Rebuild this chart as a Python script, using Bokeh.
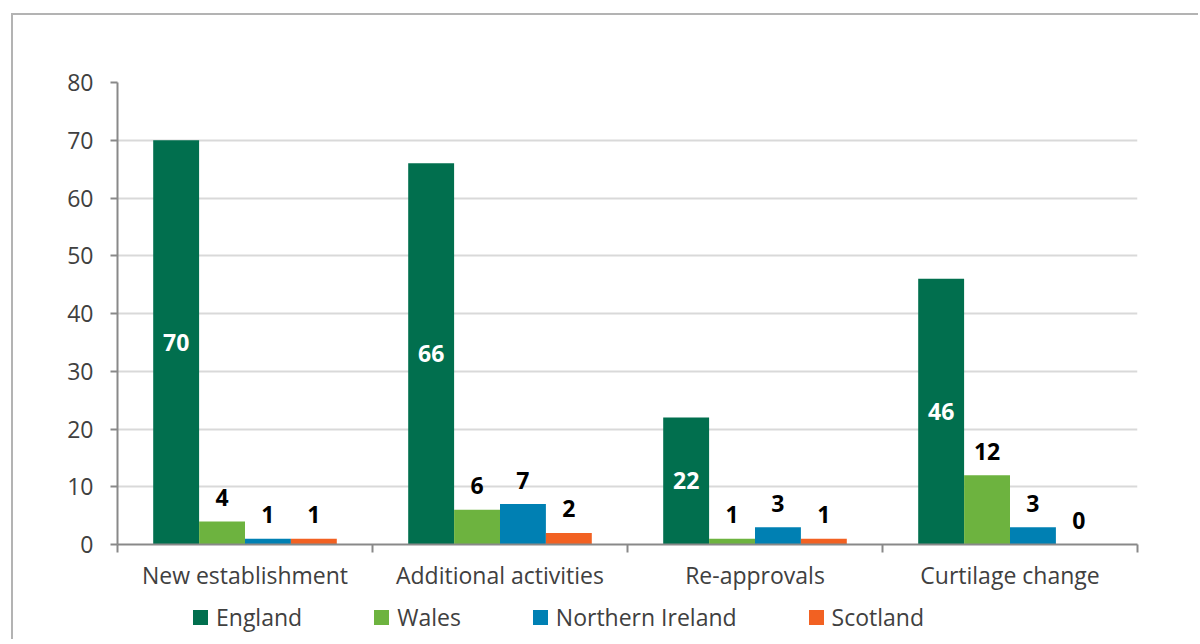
import numpy as np
from bokeh.plotting import figure
from bokeh.layouts import column
from bokeh.models import Range1d, FixedTicker, ColumnDataSource, Div
from bokeh.core.properties import value
from bokeh.embed import file_html
from bokeh.resources import INLINE

categories = ["New establishment", "Additional activities", "Re-approvals", "Curtilage change"]
series = ["England", "Wales", "Northern Ireland", "Scotland"]
england = [70, 66, 22, 46]
wales = [4, 6, 1, 12]
northern_ireland = [1, 7, 3, 3]
scotland = [1, 2, 1, 0]
colors = ["#016f4e", "#6db33f", "#0080b3", "#f26122"]
y_ticks = [0, 10, 20, 30, 40, 50, 60, 70, 80]

values = [england, wales, northern_ireland, scotland]
offsets = [-0.27, -0.09, 0.09, 0.27]
bar_w = 0.18
FONT = "Open Sans"
TXT = "#404040"
AX = "#898989"

p = figure(width=1185, height=584, output_backend="svg", toolbar_location=None,
           x_range=Range1d(0, len(categories)), y_range=Range1d(0, 80),
           min_border_left=104, min_border_right=61, min_border_top=67, min_border_bottom=55)
p.outline_line_color = None
p.background_fill_color = "white"
p.border_fill_color = "white"

centers = np.arange(len(categories)) + 0.5
for k, (name, vals, col, off) in enumerate(zip(series, values, colors, offsets)):
    src = ColumnDataSource(dict(x=centers + off, top=vals, txt=[str(v) for v in vals],
                                mid=[v / 2 for v in vals]))
    p.vbar(x="x", top="top", width=bar_w, source=src, fill_color=col, line_color=None)
    if k == 0:
        p.text(x="x", y="mid", text="txt", source=src, text_align="center", text_baseline="middle",
               text_font=value(FONT), text_font_style="bold", text_font_size="23px", text_color="white")
    else:
        p.text(x="x", y="top", text="txt", source=src, text_align="center", text_baseline="middle",
               y_offset=-24, text_font=value(FONT), text_font_style="bold", text_font_size="23px",
               text_color="black")

# y axis
p.yaxis.ticker = FixedTicker(ticks=y_ticks)
p.yaxis.axis_line_color = AX
p.yaxis.axis_line_width = 2
p.yaxis.major_tick_line_color = AX
p.yaxis.major_tick_line_width = 2
p.yaxis.major_tick_out = 7
p.yaxis.major_tick_in = 0
p.yaxis.minor_tick_line_color = None
p.yaxis.major_label_standoff = 17
p.yaxis.major_label_text_font = FONT
p.yaxis.major_label_text_font_size = "23px"
p.yaxis.major_label_text_color = TXT

# x axis
p.xaxis.ticker = FixedTicker(ticks=list(centers), minor_ticks=list(range(len(categories) + 1)))
p.xaxis.major_label_overrides = {float(c): cat for c, cat in zip(centers, categories)}
p.xaxis.axis_line_color = AX
p.xaxis.axis_line_width = 2
p.xaxis.major_tick_line_color = None
p.xaxis.major_tick_out = 0
p.xaxis.major_tick_in = 0
p.xaxis.minor_tick_line_color = AX
p.xaxis.minor_tick_line_width = 2
p.xaxis.minor_tick_out = 8
p.xaxis.minor_tick_in = 0
p.xaxis.major_label_standoff = 6
p.xaxis.major_label_text_font = FONT
p.xaxis.major_label_text_font_size = "23px"
p.xaxis.major_label_text_color = TXT

p.xgrid.grid_line_color = None
p.ygrid.grid_line_color = "#d9d9d9"
p.ygrid.grid_line_width = 2

# legend row (HTML) built from the series and colours
items_html = ""
for i, (name, col) in enumerate(zip(series, colors)):
    ml = 180 if i == 0 else 72
    items_html += (f'<span style="display:inline-block;width:15px;height:15px;background:{col};'
                   f'margin-left:{ml}px;margin-right:8px;"></span>'
                   f'<span style="font-family:\'Open Sans\';font-size:23px;color:{TXT};line-height:31px;">{name}</span>')
legend_div = Div(text=f'<div style="display:flex;align-items:center;height:37px;white-space:nowrap;">{items_html}</div>',
                 width=1185, height=40, styles={"margin": "0", "padding": "0"})

layout = column(p, legend_div, spacing=0,
                styles={"margin-left": "11px", "margin-top": "13px",
                        "border-left": "2px solid #b3b3b3", "border-top": "2px solid #b3b3b3"})

open("out.html", "w").write(file_html(layout, INLINE))
